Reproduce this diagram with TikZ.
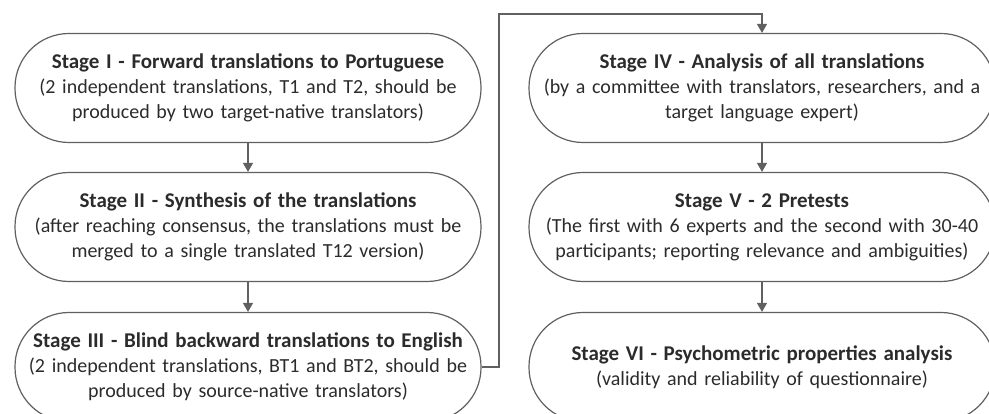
\documentclass[tikz,border=0pt]{standalone}
\usepackage{fontspec}
\setmainfont{Carlito}
\usetikzlibrary{arrows.meta}
\definecolor{linegray}{HTML}{606060}
\definecolor{textgray}{HTML}{2B2B2B}
\newcommand{\hd}[1]{{\fontsize{21}{25}\selectfont\bfseries #1}}

\begin{document}
\begin{tikzpicture}[x=1pt, y=-1pt, linegray, line width=1.2pt]
\tikzstyle{stage}=[draw, rounded corners=54pt, minimum width=466pt, minimum height=109pt, text width=466pt, inner sep=0pt, align=center, text=textgray, font=\fontsize{20}{25}\selectfont];
\tikzstyle{flow}=[-{Triangle[width=10pt, length=9pt]}];
\clip (0,0) rectangle (989,414);
\path (248,88) node (s1)[stage] {\hd{Stage I - Forward translations to Portuguese}\\ (2 independent translations, T1 and T2, should be\\ produced by two target-native translators)}
(248,227) node (s2)[stage] {\hd{Stage II - Synthesis of the translations}\\ (after reaching consensus, the translations must be\\ merged to a single translated T12 version)}
(248,367) node (s3)[stage] {\hd{Stage III - Blind backward translations to English}\\ (2 independent translations, BT1 and BT2, should be\\ produced by source-native translators)}
(762,88) node (s4)[stage] {\hd{Stage IV - Analysis of all translations}\\ \mbox{(by a committee with translators, researchers, and a}\\ target language expert)}
(762,227) node (s5)[stage] {\hd{Stage V - 2 Pretests}\\ \mbox{(The first with 6 experts and the second with 30-40}\\ \mbox{participants; reporting relevance and ambiguities)}}
(762,367) node (s6)[stage] {\hd{Stage VI - Psychometric properties analysis}\\ (validity and reliability of questionnaire)};
\coordinate (turn) at (499,14);
\draw[flow] (s1) -- (s2);
\draw[flow] (s2) -- (s3);
\draw[flow] (s3.east) -| (turn) -| (s4.north);
\draw[flow] (s4) -- (s5);
\draw[flow] (s5) -- (s6);
\end{tikzpicture}
\end{document}
